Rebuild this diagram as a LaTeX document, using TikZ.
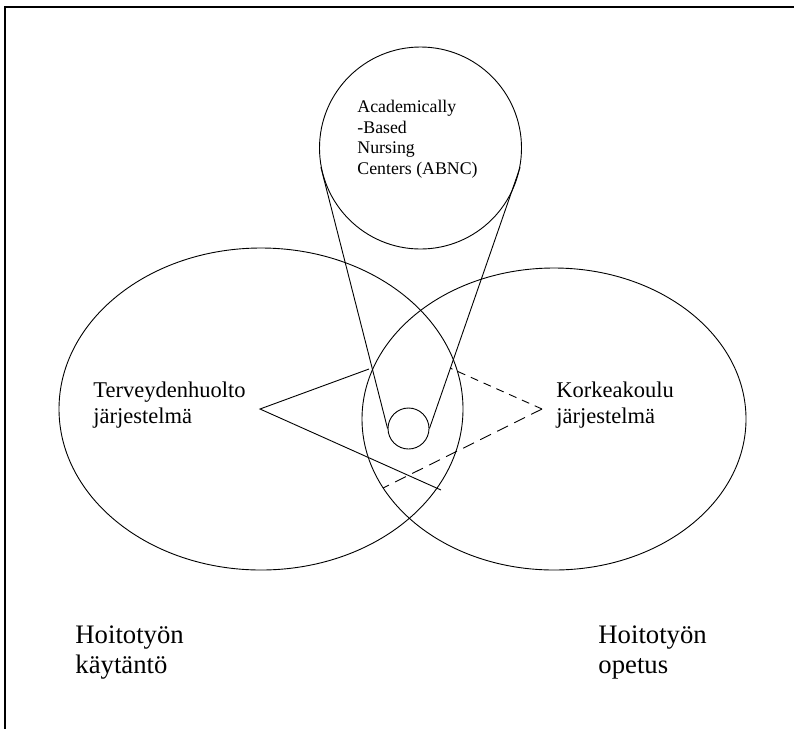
\documentclass[tikz,border=0pt]{standalone}
\usepackage{fontspec}
\setmainfont{Liberation Serif}
\usetikzlibrary{shapes.geometric}
\begin{document}
\begin{tikzpicture}[x=1pt, y=-1pt, line width=0.9pt,
  ring/.style={draw, ellipse, inner sep=0pt},
  small/.style={anchor=base west, inner sep=0pt, font=\fontsize{17.8}{20}\selectfont},
  mid/.style={anchor=base west, inner sep=0pt, font=\fontsize{22.5}{25}\selectfont},
  big/.style={anchor=base west, inner sep=0pt, font=\fontsize{26.7}{30}\selectfont},
  dashA/.style={dash pattern=on 8pt off 6pt},
  dashB/.style={dash pattern=on 12pt off 7pt}]
  \useasboundingbox (0,0) rectangle (794,729);

  % page frame (top and left edges only)
  \draw[line width=1.6pt] (794,7) -- (5,7) -- (5,729);

  % the two systems
  \node[ring, minimum width=404pt, minimum height=322pt] (health) at (261,409) {};
  \node[ring, minimum width=384pt, minimum height=302pt] (school) at (554,419) {};

  % ABNC circle and its small counterpart in the overlap
  \node[ring, minimum width=202pt, minimum height=202pt] (abnc) at (420.5,148) {};
  \node[ring, minimum width=41pt, minimum height=41pt] (hole) at (408.5,428.5) {};
  \draw (abnc.191) -- (hole.west);
  \draw (abnc.349) -- (hole.east);

  % wedges pointing into the overlap
  \coordinate (hApex) at (260,409);
  \coordinate (hUp) at (369,369);
  \coordinate (hDown) at (441,490);
  \draw (hUp) -- (hApex) -- (hDown);

  \coordinate (sApex) at (542,409);
  \coordinate (sUp) at (450,368);
  \coordinate (sDown) at (383,488);
  \draw[dashA] (sApex) -- (sUp);
  \draw[dashB] (sApex) -- (sDown);

  % labels
  \node[small] (a1) at (357,112) {Academically};
  \node[small] (a2) at (357,133) {-Based};
  \node[small] (a3) at (357,153) {Nursing};
  \node[small] (a4) at (357,174) {Centers (ABNC)};

  \node[mid] (h1) at (93,397) {Terveydenhuolto};
  \node[mid] (h2) at (93,423) {järjestelmä};
  \node[mid] (s1) at (556,397) {Korkeakoulu};
  \node[mid] (s2) at (556,423) {järjestelmä};

  \node[big] (p1) at (75,643) {Hoitotyön};
  \node[big] (p2) at (75,673) {käytäntö};
  \node[big] (o1) at (598,643) {Hoitotyön};
  \node[big] (o2) at (598,673) {opetus};
\end{tikzpicture}
\end{document}
